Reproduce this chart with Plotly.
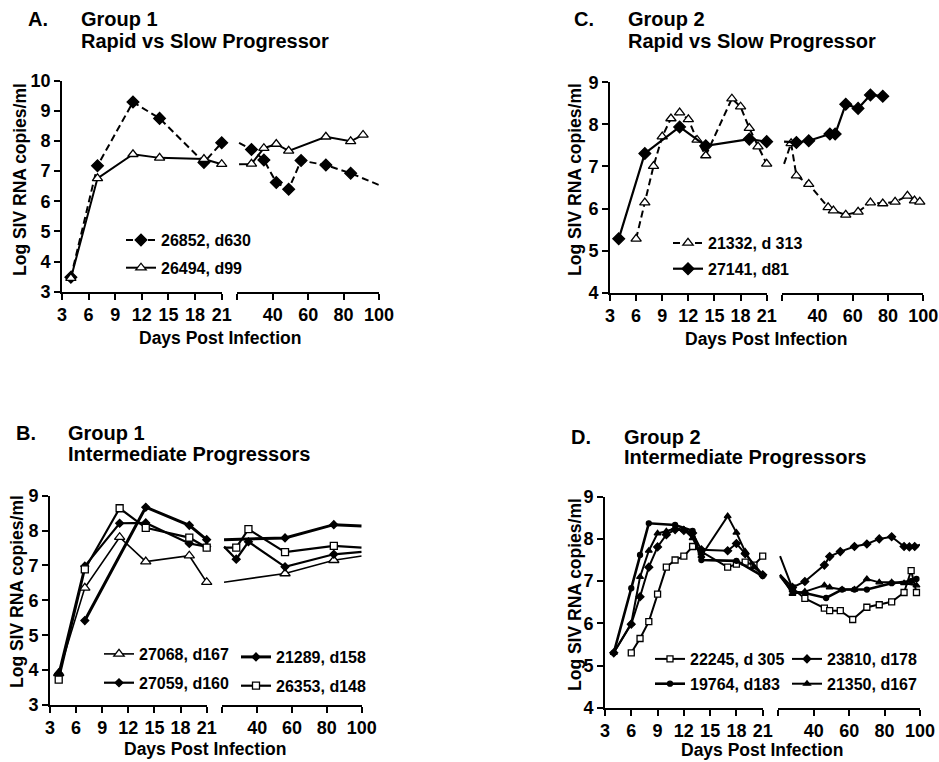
import plotly.graph_objects as go

# ---------------- data ----------------
# Panel A: Group 1, rapid vs slow progressor
a_26852_days = [4, 7, 11, 14, 19, 21, 28, 35, 42, 49, 56, 70, 84, 100]
a_26852_vals = [3.48, 7.18, 9.29, 8.75, 7.29, 7.94, 7.72, 7.37, 6.62, 6.40, 7.35, 7.20, 6.93, 6.54]
a_26494_days = [4, 7, 11, 14, 19, 21, 28, 35, 42, 49, 70, 84, 91]
a_26494_vals = [3.45, 6.76, 7.56, 7.44, 7.40, 7.23, 7.24, 7.76, 7.90, 7.67, 8.14, 7.99, 8.20]

# Panel C: Group 2, rapid vs slow progressor
c_21332_days = [6, 7, 8, 9, 10, 11, 12, 13, 14, 17, 18, 19, 20, 21, 25, 28, 35, 46, 49, 56, 63, 70, 77, 84, 91, 95, 98]
c_21332_vals = [5.28, 6.14, 7.01, 7.71, 8.14, 8.28, 8.12, 7.63, 7.26, 8.61, 8.42, 7.91, 7.47, 7.06, 7.55, 6.78, 6.58,
                6.03, 5.95, 5.85, 5.92, 6.14, 6.12, 6.16, 6.30, 6.19, 6.16]
c_27141_days = [4, 7, 11, 14, 19, 21, 28, 35, 47, 50, 56, 63, 70, 77]
c_27141_vals = [5.28, 7.31, 7.94, 7.49, 7.65, 7.59, 7.57, 7.61, 7.77, 7.77, 8.48, 8.38, 8.70, 8.67]

# Panel B: Group 1, intermediate progressors
b_27068_days = [4, 7, 11, 14, 19, 21, 56, 84, 100]
b_27068_vals = [3.91, 6.36, 7.81, 7.11, 7.28, 6.52, 6.77, 7.15, 7.27]
b_27059_days = [4, 7, 11, 14, 19, 21, 28, 35, 56, 84, 100]
b_27059_vals = [3.90, 6.98, 8.21, 8.22, 7.63, 7.54, 7.18, 7.68, 6.96, 7.32, 7.39]
b_21289_days = [7, 14, 19, 21, 56, 84, 100]
b_21289_vals = [5.42, 8.67, 8.15, 7.74, 7.79, 8.17, 8.13]
b_26353_days = [4, 7, 11, 14, 19, 21, 28, 35, 56, 84, 100]
b_26353_vals = [3.73, 6.89, 8.64, 8.08, 7.80, 7.51, 7.51, 8.04, 7.38, 7.56, 7.51]

# Panel D: Group 2, intermediate progressors
d_22245_days = [6, 7, 8, 9, 10, 11, 12, 13, 14, 17, 18, 19, 20, 21, 28, 35, 46, 49, 55, 62, 70, 77, 84, 91, 95, 98]
d_22245_vals = [5.30, 5.64, 6.04, 6.69, 7.33, 7.50, 7.59, 7.82, 7.70, 7.33, 7.40, 7.45, 7.38, 7.59, 6.83, 6.59,
                6.36, 6.30, 6.30, 6.09, 6.38, 6.44, 6.51, 6.73, 7.25, 6.73]
d_19764_days = [4, 6, 7, 8, 11, 13, 14, 18, 21, 28, 35, 47, 56, 63, 70, 84, 95, 98]
d_19764_vals = [5.30, 6.83, 7.62, 8.37, 8.33, 8.19, 7.50, 7.48, 7.12, 6.75, 6.72, 6.60, 6.80, 6.80, 6.80, 6.95, 7.00, 7.05]
d_23810_days = [4, 6, 7, 8, 9, 10, 11, 12, 13, 14, 17, 18, 19, 21, 28, 35, 46, 49, 55, 63, 70, 77, 84, 91, 94, 97, 100]
d_23810_vals = [5.30, 5.98, 6.63, 7.33, 7.81, 8.10, 8.22, 8.20, 8.14, 7.74, 7.72, 7.89, 7.65, 7.15, 6.85, 6.99,
                7.38, 7.58, 7.70, 7.82, 7.88, 8.00, 8.05, 7.82, 7.81, 7.82, 7.86]
d_21350_days = [4, 6, 7, 8, 9, 10, 11, 12, 13, 14, 17, 18, 19, 20, 21, 28, 35, 46, 49, 56, 63, 70, 77, 84, 91, 98]
d_21350_vals = [5.30, 6.00, 7.10, 7.72, 8.13, 8.18, 8.25, 8.22, 8.02, 7.60, 8.54, 8.15, 7.70, 7.33, 7.15, 6.70,
                6.75, 6.90, 6.85, 6.80, 6.80, 7.05, 6.97, 6.97, 6.95, 6.90]

left_ticks = [3, 6, 9, 12, 15, 18, 21]
right_ticks = [20, 40, 60, 80, 100]
right_ticktext = ["", "40", "60", "80", "100"]

# ---------------- layout helpers ----------------
W, H = 939, 762
FONT = "Liberation Sans, Arial, Helvetica, sans-serif"


def px(x):
    return x / W


def py(y):
    return 1 - y / H


panels = {
    "A": dict(xl=(62, 221.7), xr=(237.3, 379), yd=(80.7, 291.7), yrange=(3, 10),
              xa="x", xb="x2", ya="y"),
    "C": dict(xl=(610, 766.7), xr=(782.3, 923.3), yd=(82.3, 292.7), yrange=(4, 9),
              xa="x3", xb="x4", ya="y2"),
    "B": dict(xl=(50, 206.7), xr=(222.3, 361.7), yd=(495.7, 705), yrange=(3, 9),
              xa="x5", xb="x6", ya="y3"),
    "D": dict(xl=(605, 762.7), xr=(778.3, 920), yd=(496.7, 707.7), yrange=(4, 9),
              xa="x7", xb="x8", ya="y4"),
}

fig = go.Figure()


def add_series(panel, name, days, vals, symbol, size, fill, lw, dash, legend):
    p = panels[panel]
    marker = dict(symbol=symbol, size=size, color=fill, line=dict(color="black", width=1.3))
    line = dict(color="black", width=lw, dash=dash)
    # left segment (days 3-21)
    ld = [d for d in days if d <= 21]
    lv = [v for d, v in zip(days, vals) if d <= 21]
    fig.add_trace(go.Scatter(
        x=ld, y=lv, xaxis=p["xa"], yaxis=p["ya"], mode="lines+markers", name=name,
        line=line, marker=marker, cliponaxis=False, legend=legend, legendgroup=name,
        showlegend=True))
    # right segment: line carried across the break from the last early sample
    start = max(i for i, d in enumerate(days) if d <= 21) if any(d <= 21 for d in days) else 0
    fig.add_trace(go.Scatter(
        x=days[start:], y=vals[start:], xaxis=p["xb"], yaxis=p["ya"], mode="lines",
        line=line, showlegend=False, cliponaxis=True))
    rd = [d for d in days if 21 < d < 100]
    rv = [v for d, v in zip(days, vals) if 21 < d < 100]
    fig.add_trace(go.Scatter(
        x=rd, y=rv, xaxis=p["xb"], yaxis=p["ya"], mode="markers", marker=marker,
        showlegend=False, cliponaxis=False))


DASH = "7px,4px"
add_series("A", "26852, d630", a_26852_days, a_26852_vals, "diamond", 9, "black", 2, DASH, "legend")
add_series("A", "26494, d99", a_26494_days, a_26494_vals, "triangle-up", 9, "white", 2, "solid", "legend")

add_series("C", "21332, d 313", c_21332_days, c_21332_vals, "triangle-up", 9, "white", 2, DASH, "legend2")
add_series("C", "27141, d81", c_27141_days, c_27141_vals, "diamond", 9, "black", 2.2, "solid", "legend2")

add_series("B", "27068, d167", b_27068_days, b_27068_vals, "triangle-up", 9, "white", 1.6, "solid", "legend3")
add_series("B", "27059, d160", b_27059_days, b_27059_vals, "diamond", 6, "black", 2.2, "solid", "legend3")
add_series("B", "21289, d158", b_21289_days, b_21289_vals, "diamond", 6, "black", 3, "solid", "legend4")
add_series("B", "26353, d148", b_26353_days, b_26353_vals, "square", 7, "white", 2.2, "solid", "legend4")

add_series("D", "22245, d 305", d_22245_days, d_22245_vals, "square", 6, "white", 2, "solid", "legend5")
add_series("D", "19764, d183", d_19764_days, d_19764_vals, "circle", 5, "black", 2.6, "solid", "legend5")
add_series("D", "23810, d178", d_23810_days, d_23810_vals, "diamond", 6, "black", 2, "solid", "legend6")
add_series("D", "21350, d167", d_21350_days, d_21350_vals, "triangle-up", 6, "black", 2, "solid", "legend6")

tickfont = dict(family=FONT, size=18, color="black", weight="bold")
axis_common = dict(showline=True, linecolor="black", linewidth=1.6, ticks="outside", ticklen=6,
                   tickwidth=1.6, tickcolor="black", showgrid=False, zeroline=False, tickfont=tickfont,
                   fixedrange=True, automargin=False)


def axkey(a):
    return ("xaxis" if a[0] == "x" else "yaxis") + a[1:]


layout_axes = {}
for k, p in panels.items():
    layout_axes[axkey(p["xa"])] = dict(domain=[px(p["xl"][0]), px(p["xl"][1])], range=[3, 21],
                                       tickvals=left_ticks, anchor=p["ya"], **axis_common)
    layout_axes[axkey(p["xb"])] = dict(domain=[px(p["xr"][0]), px(p["xr"][1])], range=[20, 100],
                                       tickvals=right_ticks, ticktext=right_ticktext, anchor=p["ya"],
                                       **axis_common)
    layout_axes[axkey(p["ya"])] = dict(domain=[py(p["yd"][1]), py(p["yd"][0])], range=list(p["yrange"]),
                                       tickvals=list(range(p["yrange"][0], p["yrange"][1] + 1)),
                                       anchor=p["xa"], **axis_common)

legfont = dict(family=FONT, size=16, color="black", weight="bold")


def leg(x, y, gap):
    return dict(x=px(x), y=py(y), xanchor="left", yanchor="top", bgcolor="rgba(0,0,0,0)",
                font=legfont, itemwidth=30, tracegroupgap=gap, itemclick=False, itemdoubleclick=False)


annotations = []
titlefont = dict(family=FONT, size=20, color="black", weight="bold")
axtitlefont = dict(family=FONT, size=17.5, color="black", weight="bold")


def text(x, y, s, font, xanchor="left", angle=0):
    annotations.append(dict(x=px(x), y=py(y), xref="paper", yref="paper", text=s, showarrow=False,
                            font=font, xanchor=xanchor, yanchor="middle", textangle=angle))


headers = [
    (26, 79, 19, 41, "A.", "Group 1", "Rapid vs Slow Progressor"),
    (572, 626, 19, 41, "C.", "Group 2", "Rapid vs Slow Progressor"),
    (14, 66, 433, 454, "B.", "Group 1", "Intermediate Progressors"),
    (569, 622, 437, 457, "D.", "Group 2", "Intermediate Progressors"),
]
for lx, gx, y1, y2, letter, grp, sub in headers:
    text(lx, y1, letter, titlefont)
    text(gx, y1, grp, titlefont)
    text(gx, y2, sub, titlefont)

ytitles = [(20, 180), (575, 180), (17, 592), (575, 595)]
for x, y in ytitles:
    text(x, y, "Log SIV RNA copies/ml", axtitlefont, xanchor="center", angle=-90)

xtitles = [(220, 338), (766, 339), (205, 749), (762, 750)]
for x, y in xtitles:
    text(x, y, "Days Post Infection", axtitlefont, xanchor="center")

fig.update_layout(
    template="none",
    width=W, height=H, margin=dict(l=0, r=0, t=0, b=0, pad=0, autoexpand=False),
    paper_bgcolor="white", plot_bgcolor="white",
    font=dict(family=FONT, color="black"),
    annotations=annotations,
    legend=leg(121, 223, 4),
    legend2=leg(668, 226, 2),
    legend3=leg(99, 637, 5),
    legend4=leg(236, 640, 5),
    legend5=leg(650, 642, 1),
    legend6=leg(787, 642, 1),
    **layout_axes,
)

fig.write_html("out.html", config={"displayModeBar": False})

# remove the browser's default page margin so the figure fills the window exactly
with open("out.html", encoding="utf-8") as f:
    html = f.read()
html = html.replace("<body>", '<body style="margin:0;padding:0;overflow:hidden">', 1)
with open("out.html", "w", encoding="utf-8") as f:
    f.write(html)
